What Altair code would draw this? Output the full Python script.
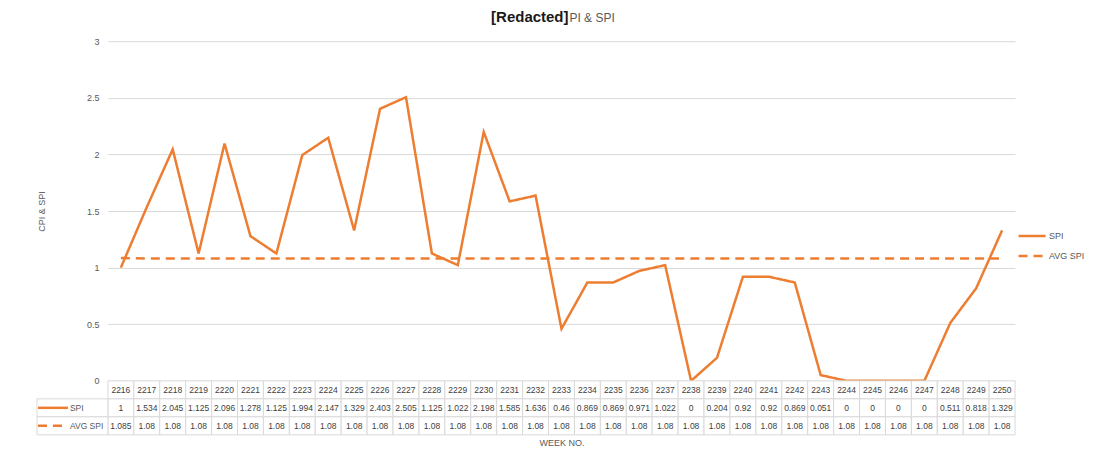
import altair as alt
import pandas as pd

weeks = [2216, 2217, 2218, 2219, 2220, 2221, 2222, 2223, 2224, 2225, 2226, 2227,
         2228, 2229, 2230, 2231, 2232, 2233, 2234, 2235, 2236, 2237, 2238, 2239,
         2240, 2241, 2242, 2243, 2244, 2245, 2246, 2247, 2248, 2249, 2250]
spi = [1, 1.534, 2.045, 1.125, 2.096, 1.278, 1.125, 1.994, 2.147, 1.329, 2.403, 2.505,
       1.125, 1.022, 2.198, 1.585, 1.636, 0.46, 0.869, 0.869, 0.971, 1.022, 0, 0.204,
       0.92, 0.92, 0.869, 0.051, 0, 0, 0, 0, 0.511, 0.818, 1.329]
avg_spi = [1.085, 1.08, 1.08, 1.08, 1.08, 1.08, 1.08, 1.08, 1.08, 1.08, 1.08, 1.08,
           1.08, 1.08, 1.08, 1.08, 1.08, 1.08, 1.08, 1.08, 1.08, 1.08, 1.08, 1.08,
           1.08, 1.08, 1.08, 1.08, 1.08, 1.08, 1.08, 1.08, 1.08, 1.08, 1.08]
series_names = ["SPI", "AVG SPI"]
y_ticks = [0, 0.5, 1, 1.5, 2, 2.5, 3]
title_bold = "[Redacted]"
title_rest = "PI & SPI"

ORANGE = "#ED7D31"
GRID = "#d9d9d9"
TXT = "#595959"
FONT = "Liberation Sans"

week_str = [str(w) for w in weeks]
n = len(weeks)
line_df = pd.DataFrame({
    "week": week_str + week_str,
    "series": [series_names[0]] * n + [series_names[1]] * n,
    "value": spi + avg_spi,
})
line_df["row"] = line_df["series"]
hdr_df = pd.DataFrame({"week": week_str, "row": ["hdr"] * n, "label": week_str})
cells_df = pd.concat([hdr_df[["week", "row"]], line_df[["week", "row"]]], ignore_index=True)
series_df = pd.DataFrame({"row": series_names})
title_df = pd.DataFrame({"a": [title_bold], "b": [title_rest]})

W, H = 908, 340

x_main = alt.X("week:O", sort=week_str, axis=None,
               scale=alt.Scale(type="point", padding=0.5))

legend_cfg = dict(title=None, orient="none", legendX=910, legendY=180,
                  symbolType="stroke", symbolStrokeWidth=2.5, symbolSize=729,
                  labelFontSize=9, labelColor=TXT, labelFont=FONT,
                  rowPadding=-8, labelOffset=2, padding=0)

lines = alt.Chart(line_df).mark_line(strokeWidth=2.5).encode(
    x=x_main,
    y=alt.Y("value:Q", scale=alt.Scale(domain=[0, 3], nice=False),
            axis=alt.Axis(values=y_ticks, format="~g", title="CPI & SPI", grid=True, gridColor=GRID,
                          domain=False, ticks=False, labelPadding=9, titlePadding=40,
                          labelColor=TXT, titleColor=TXT, labelFontSize=9, titleFontSize=9,
                          titleFontWeight="normal", labelFont=FONT, titleFont=FONT)),
    color=alt.Color("series:N", scale=alt.Scale(domain=series_names, range=[ORANGE, ORANGE]),
                    legend=alt.Legend(**legend_cfg)),
    strokeDash=alt.StrokeDash("series:N", scale=alt.Scale(domain=series_names, range=[[1, 0], [9, 6]]),
                              legend=alt.Legend(**legend_cfg)),
)

t1 = alt.Chart(title_df).mark_text(align="right", baseline="middle", fontSize=15, fontWeight="bold",
                                   font=FONT, color="#1a1a1a").encode(
    text="a:N", x=alt.value(461), y=alt.value(-24))
t2 = alt.Chart(title_df).mark_text(align="left", baseline="middle", fontSize=12,
                                   font=FONT, color=TXT).encode(
    text="b:N", x=alt.value(462), y=alt.value(-23))

main = alt.layer(lines, t1, t2).properties(width=W, height=H)

rows_domain = ["hdr"] + series_names
x_tab = alt.X("week:O", sort=week_str,
              scale=alt.Scale(paddingInner=0, paddingOuter=0),
              axis=alt.Axis(title="WEEK NO.", labels=False, ticks=False, domain=False,
                            titlePadding=4, titleFontSize=9, titleFontWeight="normal",
                            titleColor=TXT, titleFont=FONT))
y_tab = alt.Y("row:N", scale=alt.Scale(domain=rows_domain, paddingInner=0, paddingOuter=0), axis=None)

cells = alt.Chart(cells_df).mark_rect(fill="white", stroke=GRID, strokeWidth=1).encode(x=x_tab, y=y_tab)
hdr_text = alt.Chart(hdr_df).mark_text(fontSize=8.5, font=FONT, color="#404040").encode(
    x=x_tab, y=y_tab, text="label:N")
val_text = alt.Chart(line_df).mark_text(fontSize=8.5, font=FONT, color="#404040").encode(
    x=x_tab, y=y_tab, text=alt.Text("value:Q", format=".4~g"))
head_cells = alt.Chart(series_df).mark_rect(fill="white", stroke=GRID, strokeWidth=1).encode(
    x=alt.value(-71), x2=alt.value(0), y=y_tab)
key_solid = alt.Chart(series_df).transform_filter(alt.datum.row == series_names[0]).mark_rule(
    color=ORANGE, strokeWidth=2.5).encode(x=alt.value(-70), x2=alt.value(-40), y=y_tab)
key_dash = alt.Chart(series_df).transform_filter(alt.datum.row == series_names[1]).mark_rule(
    color=ORANGE, strokeWidth=2.5, strokeDash=[9, 6]).encode(x=alt.value(-70), x2=alt.value(-40), y=y_tab)
key_text = alt.Chart(series_df).mark_text(align="left", fontSize=8.5, font=FONT, color=TXT).encode(
    x=alt.value(-38), y=y_tab, text="row:N")

table = alt.layer(cells, hdr_text, val_text, head_cells, key_solid, key_dash, key_text).properties(
    width=W, height=54)

chart = alt.vconcat(main, table, spacing=0, bounds="flush").properties(
    padding={"left": 28, "top": 2, "right": 0, "bottom": 5},
    background="white",
).configure_view(stroke=None)

chart.save("out.html", embed_options={"renderer": "svg", "actions": False})
